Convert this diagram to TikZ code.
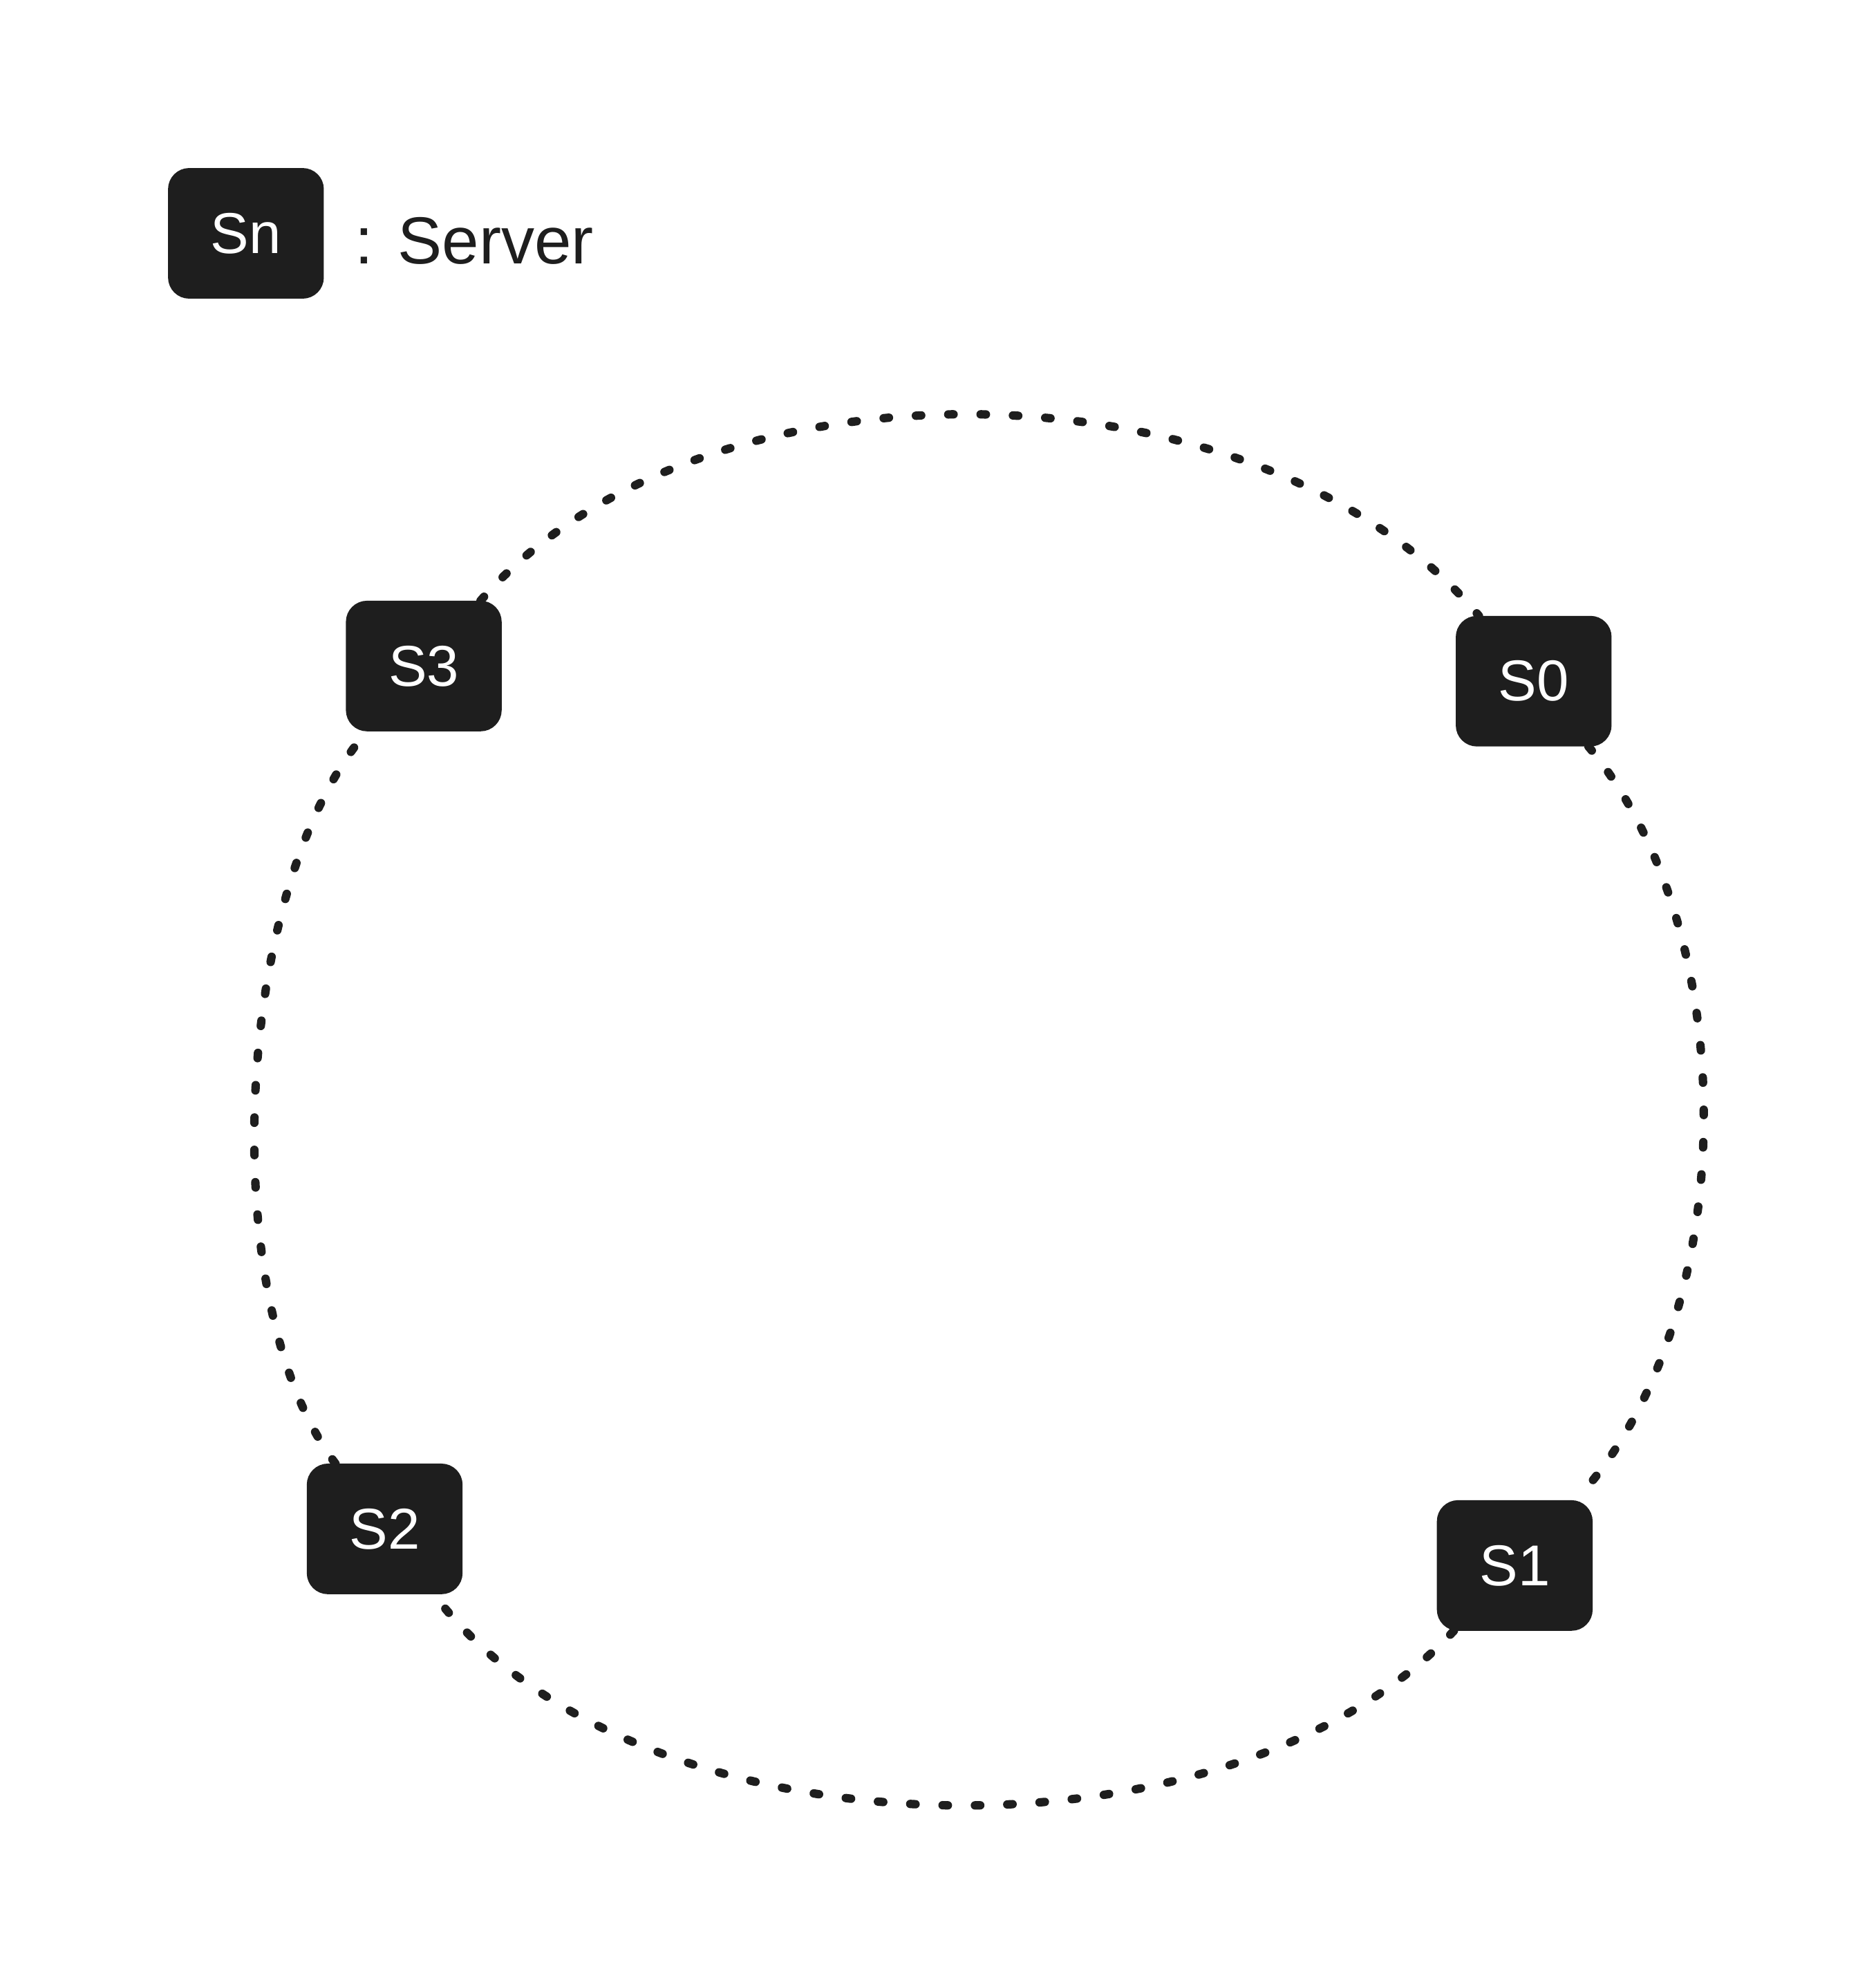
\documentclass[tikz,border=0pt]{standalone}
\usepackage{fontspec}
\setmainfont{Liberation Sans}
\usepackage{xcolor}
\usepackage{tikz}
\definecolor{ink}{HTML}{1E1E1E}
\usetikzlibrary{positioning}

\begin{document}
\begin{tikzpicture}[
  srv/.style={rectangle,rounded corners=0.15cm,fill=ink,draw=ink,line width=1pt,
              minimum width=1.2cm,minimum height=1.0cm,
              text=white,font=\fontsize{13}{15}\selectfont},
  ring/.style={draw=ink,line width=1.9pt,line cap=round,
               dash pattern=on 1.2pt off 6.1pt}]
  \useasboundingbox (0,0) rectangle (14.87,15.68);
  % legend
  \node[srv] (sn) at (1.95,13.83) {Sn};
  \node[font=\fontsize{15}{18}\selectfont,text=ink,
        right=0.12cm of sn,yshift=-0.6mm] (lbl) {: Server};
  % servers on the ring
  \node[srv] (s3) at (3.36,10.40) {S3};
  \node[srv] (s0) at (12.16,10.28) {S0};
  \node[srv] (s1) at (12.01,3.27) {S1};
  \node[srv] (s2) at (3.05,3.56) {S2};
  \draw[ring] (s3) to[out=49,in=130,looseness=0.87] (s0);
  \draw[ring] (s0) to[out=-50,in=47,looseness=0.83] (s1);
  \draw[ring] (s1) to[out=227,in=-53,looseness=0.84] (s2);
  \draw[ring] (s2) to[out=127,in=229,looseness=0.71] (s3);
\end{tikzpicture}
\end{document}
